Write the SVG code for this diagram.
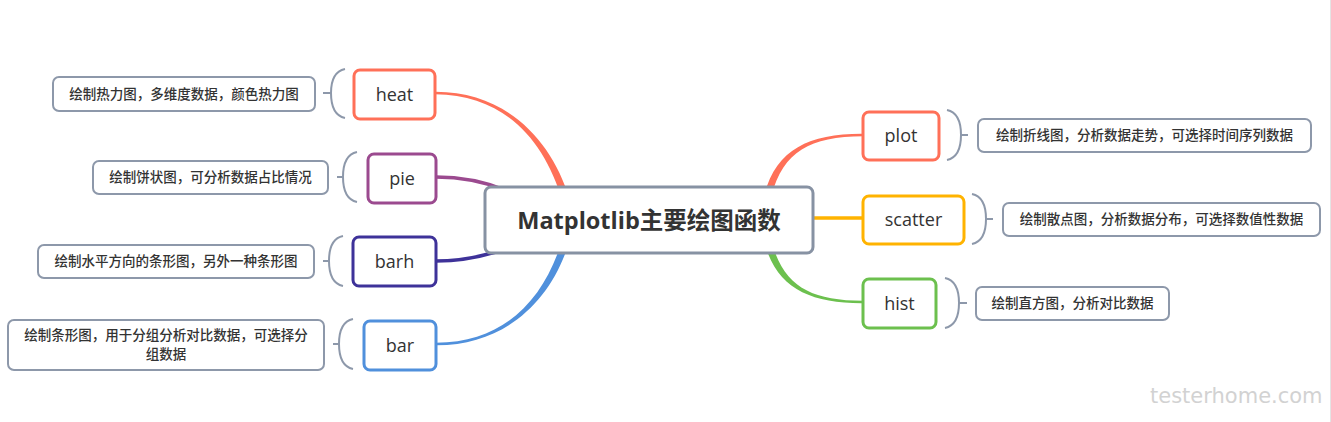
<svg xmlns="http://www.w3.org/2000/svg" width="1331" height="422" viewBox="0 0 1331 422">
<style>
.node{fill:#fff;stroke-width:3}
.lbl{font-family:"Open Sans","Noto Sans",sans-serif;font-size:18px;fill:#333;text-anchor:middle}
.desc rect{fill:#fff;stroke:#8d98aa;stroke-width:2}
.desc text{font-family:"Noto Sans CJK SC","Noto Sans",sans-serif;font-size:13.5px;font-weight:500;fill:#333;text-anchor:middle}
.br{fill:none;stroke:#8d98aa;stroke-width:2}
.thin{fill:none;stroke-width:3.5;stroke-linecap:butt}
</style>
<rect x="0" y="0" width="1331" height="422" fill="#fff"/>
<line x1="1330.5" y1="0" x2="1330.5" y2="422" stroke="#e4e4e4" stroke-width="1"/>
<g id="connectors">
<path d="M435,91.8 C505,91.5 551.5,139 569.5,199 L562.5,201 C544.5,141 505,94.5 435,94.2 Z" fill="#FF7058"/>
<path class="thin" d="M436,177 C465,177 485,182 505,190" stroke="#9B4A8F"/>
<path class="thin" d="M436,261 C465,261 485,256 505,249" stroke="#3E3299"/>
<path d="M436,345.2 C505,345.5 551.5,301 569.5,241 L562.5,239 C544.5,299 505,342.5 436,342.8 Z" fill="#5090DC"/>
<path d="M863,133.8 C810,133.5 776.6,149 764.6,194 L771.4,196 C783.4,151 810,136.5 863,136.2 Z" fill="#FF7058"/>
<line x1="810" y1="218" x2="863" y2="218" stroke="#FFB300" stroke-width="3.5"/>
<path d="M863,303.2 C810,303.5 776.6,288 764.6,243 L771.4,241 C783.4,286 810,300.5 863,300.8 Z" fill="#6CC04E"/>
<path class="br" d="M345,69 Q331,72 331,93 Q331,115 345,118 M323,93 H331"/>
<path class="br" d="M357,152 Q343,155 343,177 Q343,199 357,202 M337,177 H343"/>
<path class="br" d="M343,236 Q329,239 329,261 Q329,283 343,286 M323,261 H329"/>
<path class="br" d="M353,319 Q339,322 339,344 Q339,366 353,369 M333,344 H339"/>
<path class="br" d="M947,110 Q961,113 961,135 Q961,157 947,160 M961,135 H968"/>
<path class="br" d="M972,194 Q986,197 986,219 Q986,241 972,244 M986,219 H993"/>
<path class="br" d="M945,278 Q959,281 959,303 Q959,325 945,328 M959,303 H967"/>
</g>
<g id="center">
<rect class="node" x="485" y="187" width="328" height="66" rx="6" stroke="#8792A3"/>
<text x="649" y="228.5" font-family="'Open Sans','Noto Sans CJK SC',sans-serif" font-size="23.5" font-weight="bold" fill="#333" text-anchor="middle">Matplotlib主要绘图函数</text>
</g>
<g id="heat">
<rect class="node" x="354" y="70" width="81" height="49" rx="6" stroke="#FF7058"/>
<text class="lbl" x="394.5" y="100.5">heat</text>
</g>
<g id="pie">
<rect class="node" x="368" y="154" width="68" height="49" rx="6" stroke="#9B4A8F"/>
<text class="lbl" x="402" y="184.5">pie</text>
</g>
<g id="barh">
<rect class="node" x="353" y="237" width="83" height="49" rx="6" stroke="#3E3299"/>
<text class="lbl" x="394.5" y="267.5">barh</text>
</g>
<g id="bar">
<rect class="node" x="364" y="321" width="72" height="49" rx="6" stroke="#5090DC"/>
<text class="lbl" x="400" y="351.5">bar</text>
</g>
<g id="plot">
<rect class="node" x="863" y="112" width="76" height="48" rx="6" stroke="#FF7058"/>
<text class="lbl" x="901" y="142">plot</text>
</g>
<g id="scatter">
<rect class="node" x="863" y="196" width="101" height="48" rx="6" stroke="#FFB300"/>
<text class="lbl" x="913.5" y="226">scatter</text>
</g>
<g id="hist">
<rect class="node" x="863" y="279" width="73" height="49" rx="6" stroke="#6CC04E"/>
<text class="lbl" x="899.5" y="309.5">hist</text>
</g>
<g id="heat-desc" class="desc">
<rect x="53" y="77" width="262" height="34" rx="6"/>
<text x="184" y="98.5">绘制热力图，多维度数据，颜色热力图</text>
</g>
<g id="pie-desc" class="desc">
<rect x="93" y="161" width="235" height="33" rx="6"/>
<text x="210.5" y="182">绘制饼状图，可分析数据占比情况</text>
</g>
<g id="barh-desc" class="desc">
<rect x="38" y="245" width="276" height="33" rx="6"/>
<text x="176" y="266">绘制水平方向的条形图，另外一种条形图</text>
</g>
<g id="bar-desc" class="desc">
<rect x="8" y="320" width="316" height="50" rx="6"/>
<text x="166" y="340">绘制条形图，用于分组分析对比数据，可选择分</text>
<text x="166" y="359">组数据</text>
</g>
<g id="plot-desc" class="desc">
<rect x="978" y="119" width="333" height="33" rx="6"/>
<text x="1144.5" y="140">绘制折线图，分析数据走势，可选择时间序列数据</text>
</g>
<g id="scatter-desc" class="desc">
<rect x="1003" y="203" width="317" height="33" rx="6"/>
<text x="1161.5" y="224">绘制散点图，分析数据分布，可选择数值性数据</text>
</g>
<g id="hist-desc" class="desc">
<rect x="976" y="287" width="193" height="33" rx="6"/>
<text x="1072.5" y="308">绘制直方图，分析对比数据</text>
</g>
<text x="1150" y="403" font-family="'DejaVu Sans',sans-serif" font-size="21" fill="#d2d2d2">testerhome.com</text>
</svg>
